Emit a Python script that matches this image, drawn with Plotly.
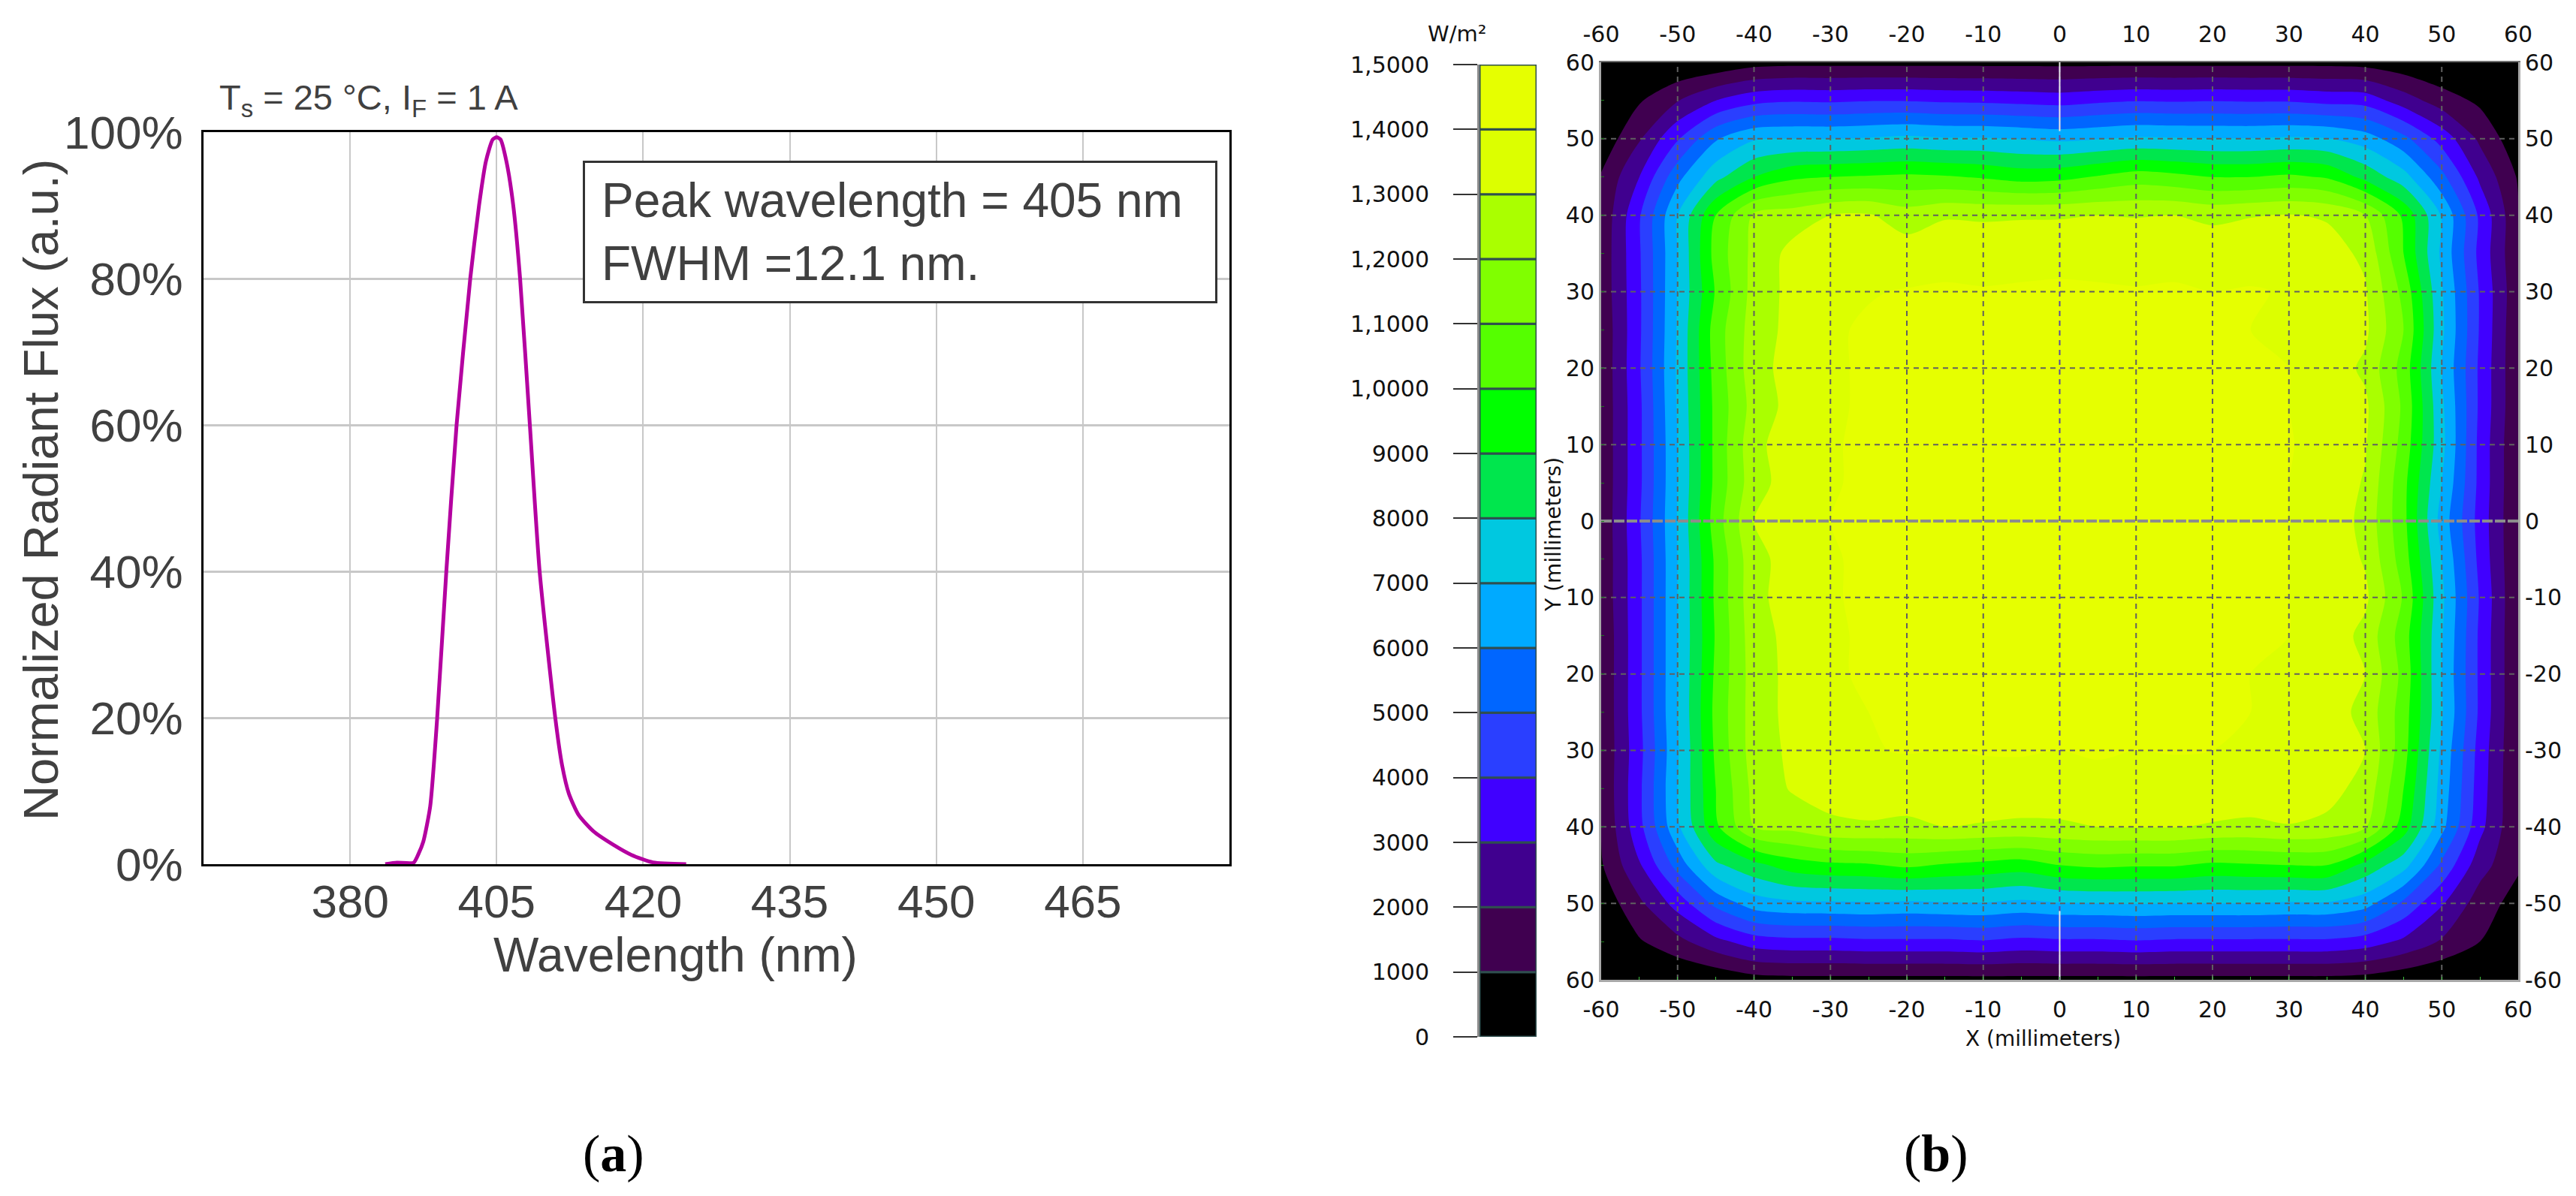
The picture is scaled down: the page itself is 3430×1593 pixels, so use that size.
import plotly.graph_objects as go

W, H = 3430, 1593

# ---------- panel (a) data ----------
wavelength = [393.6, 394.8, 396.5, 397.0, 397.5, 398.2, 398.9, 399.85, 400.9, 402.3, 403.2, 403.9, 404.6, 405.0,
              405.4, 406.0, 406.7, 407.4, 408.4, 409.4, 411.0, 411.7, 412.4, 413.4, 414.9, 417.0, 418.8, 421.0, 424.4]
radiant_flux = [0.0, 0.2, 0.2, 1.4, 3.1, 7.9, 19.7, 40, 60, 80, 90, 96, 99, 99.3,
                99, 96, 90, 80, 60, 40, 20, 13.5, 9.6, 6.7, 4.5, 2.6, 1.26, 0.24, 0.0]
wl_ticks = [390, 405, 420, 435, 450, 465]
wl_labels = ["380", "405", "420", "435", "450", "465"]
flux_ticks = [0, 20, 40, 60, 80, 100]
flux_labels = ["0%", "20%", "40%", "60%", "80%", "100%"]

# ---------- panel (b) data ----------
map_x = [-60, -55, -50, -45, -40, -35, -30, -25, -20, -15, -10, -5, 0, 5, 10, 15, 20, 25, 30, 35, 40, 45, 50, 55, 60]
map_y = [60, 55, 50, 45, 40, 35, 30, 25, 20, 15, 10, 5, 0, -5, -10, -15, -20, -25, -30, -35, -40, -45, -50, -55, -60]
irradiance = [
 [0,0,0,200,600,700,700,700,700,700,700,700,700,700,700,700,700,700,700,700,600,300,0,0,0],
 [0,900,1950,3000,3700,3900,3850,3950,3950,3850,3800,3700,3600,3800,3950,3900,3950,3900,3900,3700,3600,2500,1500,800,0],
 [300,1900,3900,5900,6900,7000,7000,7100,7250,7100,7100,6950,6800,6950,7150,7100,7050,7050,7150,7050,6500,5300,3600,1800,300],
 [1100,3000,5700,7700,9000,9800,10000,10100,10200,10100,9900,9600,9700,10100,10500,10300,10000,10000,10200,9900,8700,7400,5300,2800,900],
 [1200,3900,7000,10000,12200,12500,13000,13100,12500,12900,12850,12900,12900,13000,12950,13000,12750,12950,13050,12900,12000,9800,6900,3800,1100],
 [1300,3900,7000,10400,12300,13300,13600,13700,13500,13700,13700,13700,13800,13700,13700,13700,13700,13700,13700,13400,12800,10000,6800,3700,1100],
 [1300,3850,7050,10100,12400,13300,13800,13950,14050,14100,14050,14100,14100,14100,14050,14100,14000,14050,13950,13600,13100,10700,7100,3900,1200],
 [1200,3850,7100,10500,12500,13300,13900,14100,14000,14100,14200,14050,14200,14100,14000,14200,14100,14000,14000,13650,13200,11000,7200,3900,1100],
 [1200,3900,7150,10400,12600,13400,13900,14100,14200,14200,14300,14200,14300,14200,14200,14300,14200,14100,14000,13600,12800,10600,7000,3800,1100],
 [1200,3800,7100,10300,12400,13350,13900,14100,14200,14300,14300,14400,14300,14200,14300,14400,14300,14200,14000,13600,13200,10800,7200,3800,1100],
 [1200,3800,7000,10300,12700,13600,13950,14100,14200,14300,14400,14300,14400,14300,14400,14300,14300,14200,14050,13700,13100,10600,7300,3700,1000],
 [1200,3800,7000,10300,12600,13500,13950,14100,14200,14300,14400,14300,14400,14300,14300,14300,14200,14100,14000,13700,12900,10300,7000,3700,1000],
 [1200,3900,7050,10500,13000,13600,14000,14100,14200,14300,14300,14400,14300,14300,14300,14300,14200,14100,14000,13700,12700,10300,6600,3600,1000],
 [1200,3800,7000,10200,12700,13400,13950,14100,14300,14300,14400,14300,14400,14300,14300,14200,14100,14050,14000,13700,12900,10500,7000,3700,1000],
 [1200,3800,7000,10200,12700,13500,13950,14100,14300,14300,14300,14400,14300,14300,14300,14200,14100,14100,14000,13700,13200,10900,7200,3900,1000],
 [1100,3800,7000,10100,12600,13300,13900,14100,14200,14300,14300,14300,14300,14200,14200,14200,14100,14100,14000,13650,12700,10500,7100,3800,1000],
 [1100,3800,7000,10200,12500,13300,13900,14100,14100,14200,14200,14300,14300,14200,14100,14200,14100,14000,14000,13600,13000,10700,7000,3800,1000],
 [1100,3800,7000,10300,12500,13300,13900,14000,14100,14100,14200,14100,14200,14200,14100,14100,14100,14000,14000,13500,12700,10500,7100,3800,1000],
 [1100,3700,6900,10200,12500,13200,13700,13950,14050,14000,14050,14100,14000,14100,14000,14050,14000,14000,13950,13400,13000,10400,6800,3600,1000],
 [1100,3800,7000,10000,12300,13100,13400,13500,13500,13600,13700,13500,13400,13700,13700,13600,13700,13600,13600,13300,12700,10000,6600,3500,1000],
 [1000,3700,6800,9800,12000,12300,12800,12900,12800,13000,12900,12850,12900,13000,13050,13050,12900,12800,12950,12800,12100,9500,6300,3300,1050],
 [900,2900,5400,7800,8700,9500,9800,9900,10200,9900,9700,9500,10000,10200,10100,10100,9800,9900,10000,10000,8700,7400,4800,2400,1150],
 [300,1800,3400,5300,6500,6800,6850,6900,6800,6900,6950,6750,6950,7000,7050,7000,7000,7000,6900,6900,6400,4800,3100,1500,600],
 [0,900,1700,2700,3500,3700,3700,3800,3800,3800,3900,3700,3800,3800,3900,3800,3800,3800,3800,3800,3500,2800,1900,1000,0],
 [0,0,0,200,600,700,700,700,700,700,700,700,700,700,700,700,700,700,700,700,600,300,0,0,0],
]
band_colors = ["#000000", "#400050", "#40008f", "#4000ff", "#2a3fff", "#0066ff", "#00aaff", "#00c8e0",
               "#00e64d", "#00ff00", "#55ff00", "#80ff00", "#aaff00", "#dcff00", "#e6ff00"]
band_starts = [0, 1000, 2000, 3000, 4000, 5000, 6000, 7000, 8000, 9000, 10000, 11000, 12000, 13000, 14000]
band_height = [1000] * 15
scale_ticks = band_starts + [15000]
scale_labels = ["0", "1000", "2000", "3000", "4000", "5000", "6000", "7000", "8000", "9000",
                "1,0000", "1,1000", "1,2000", "1,3000", "1,4000", "1,5000"]
mm_ticks = [-60, -50, -40, -30, -20, -10, 0, 10, 20, 30, 40, 50, 60]
mm_minor = [-55, -45, -35, -25, -15, -5, 5, 15, 25, 35, 45, 55]
x_mm_labels = ["-60", "-50", "-40", "-30", "-20", "-10", "0", "10", "20", "30", "40", "50", "60"]
y_left_labels = ["60", "50", "40", "30", "20", "10", "0", "10", "20", "30", "40", "50", "60"]
y_right_labels = ["-60", "-50", "-40", "-30", "-20", "-10", "0", "10", "20", "30", "40", "50", "60"]
grid_mm = [-50, -40, -30, -20, -10, 10, 20, 30, 40, 50]

def fx(a, b): return [a / W, b / W]
def fy(top, bottom): return [1 - bottom / H, 1 - top / H]

fig = go.Figure()

# panel (a)
fig.add_trace(go.Scatter(x=wavelength, y=radiant_flux, mode="lines", xaxis="x", yaxis="y",
                         line=dict(color="#b400a0", width=5, shape="spline", smoothing=0.6),
                         showlegend=False, name="Normalized Radiant Flux"))

# panel (b) map
cs = []
for i, c in enumerate(band_colors):
    cs.append([i / 15, c]); cs.append([(i + 1) / 15, c])
fig.add_trace(go.Contour(x=map_x, y=map_y, z=irradiance, xaxis="x2", yaxis="y2", colorscale=cs,
                         zmin=0, zmax=15000, autocontour=False, showscale=False,
                         contours=dict(start=0, end=15000, size=1000, coloring="fill", showlines=False),
                         line=dict(width=0, smoothing=0.8), hoverinfo="skip", name="Irradiance"))

GRID = dict(color="#606060", width=2, dash="7px,6px")
for v in grid_mm:
    fig.add_trace(go.Scatter(x=[v, v], y=[-60, 60], mode="lines", xaxis="x2", yaxis="y2",
                             line=GRID, showlegend=False, hoverinfo="skip"))
    fig.add_trace(go.Scatter(x=[-60, 60], y=[v, v], mode="lines", xaxis="x2", yaxis="y2",
                             line=GRID, showlegend=False, hoverinfo="skip"))
fig.add_trace(go.Scatter(x=[-60, 60], y=[0, 0], mode="lines", xaxis="x2", yaxis="y2",
                         line=dict(color="#8c8c8c", width=4, dash="14px,3px"), showlegend=False, hoverinfo="skip"))
fig.add_trace(go.Scatter(x=[0, 0], y=[-60, 60], mode="lines", xaxis="x2", yaxis="y2",
                         line=dict(color="#5a4aa0", width=2, dash="7px,6px"), showlegend=False, hoverinfo="skip"))
fig.add_trace(go.Scatter(x=[0, 0, None, 0, 0], y=[60, 51, None, -51, -60], mode="lines", xaxis="x2", yaxis="y2",
                         line=dict(color="#e8e8e8", width=2), showlegend=False, hoverinfo="skip"))
# top/right labelled axes
fig.add_trace(go.Scatter(x=[-60, 60], y=[-60, 60], mode="lines", xaxis="x3", yaxis="y3", opacity=0,
                         showlegend=False, hoverinfo="skip"))

# panel (b) colour scale
fig.add_trace(go.Bar(x=[0] * 15, y=band_height, base=band_starts, width=1, xaxis="x4", yaxis="y4",
                     marker=dict(color=band_colors, line=dict(color="#2f4f4f", width=3)),
                     showlegend=False, hoverinfo="skip", name="Scale"))

GRAY = "#404040"
ARIAL = "Liberation Sans, Arial, sans-serif"
MAPF = dict(family="DejaVu Sans", size=30, color="#111111")

fig.update_layout(
    width=W, height=H, margin=dict(l=0, r=0, t=0, b=0, pad=0), autosize=False, template="none",
    paper_bgcolor="white", plot_bgcolor="white", showlegend=False,
    xaxis=dict(domain=fx(271, 1637), range=[375, 480], tickmode="array", tickvals=wl_ticks, ticktext=wl_labels,
               automargin=False, tickfont=dict(family=ARIAL, size=62, color=GRAY), ticklabelstandoff=-6, ticks="",
               showgrid=True, gridcolor="#c8c8c8", gridwidth=2, zeroline=False,
               showline=True, linecolor="#000000", linewidth=3, mirror=True, anchor="y"),
    yaxis=dict(domain=fy(176, 1151), range=[0, 100], tickmode="array", tickvals=flux_ticks, ticktext=flux_labels,
               automargin=False, tickfont=dict(family=ARIAL, size=62, color=GRAY), ticklabelstandoff=12, ticks="",
               showgrid=True, gridcolor="#c8c8c8", gridwidth=3, zeroline=False,
               showline=True, linecolor="#000000", linewidth=3, mirror=True, anchor="x"),
    xaxis2=dict(domain=fx(2132, 3353), range=[-60, 60], tickmode="array", tickvals=mm_ticks, ticktext=x_mm_labels, tickfont=MAPF,
                automargin=False, ticks="inside", ticklen=4, tickcolor="#3cc03c", ticklabelstandoff=11,
                minor=dict(tickmode="array", tickvals=mm_minor, ticks="inside", ticklen=4, tickcolor="#3cc03c"),
                showgrid=False, zeroline=False, showline=True, linecolor="#a8a8a8", linewidth=3, anchor="y2"),
    yaxis2=dict(domain=fy(83, 1305), range=[-60, 60], tickmode="array", tickvals=mm_ticks, ticktext=y_left_labels, tickfont=MAPF,
                automargin=False, ticks="inside", ticklen=4, tickcolor="#1a7a1a",
                minor=dict(tickmode="array", tickvals=mm_minor, ticks="inside", ticklen=4, tickcolor="#1a7a1a"),
                showgrid=False, zeroline=False, showline=True, linecolor="#a8a8a8", linewidth=3, anchor="x2"),
    xaxis3=dict(domain=fx(2132, 3353), range=[-60, 60], tickmode="array", tickvals=mm_ticks, ticktext=x_mm_labels, tickfont=MAPF,
                automargin=False, side="top", overlaying="x2", ticks="", ticklabelstandoff=13, showgrid=False, zeroline=False,
                showline=True, linecolor="#707070", linewidth=2, anchor="y3"),
    yaxis3=dict(domain=fy(83, 1305), range=[-60, 60], tickmode="array", tickvals=mm_ticks, ticktext=y_right_labels, tickfont=MAPF,
                automargin=False, side="right", overlaying="y2", ticks="", showgrid=False, zeroline=False,
                showline=True, linecolor="#a8a8a8", linewidth=3, anchor="x3"),
    xaxis4=dict(domain=fx(1970, 2046), range=[-0.5, 0.5], visible=False, anchor="y4"),
    yaxis4=dict(domain=fy(86, 1381), range=[0, 15000], tickmode="array", tickvals=scale_ticks, ticktext=scale_labels, tickfont=MAPF,
                automargin=False, ticks="outside", ticklen=32, tickwidth=2, tickcolor="#333333", ticklabelstandoff=26,
                showgrid=False, zeroline=False, showline=True, linecolor="#8a8a8a", linewidth=3, anchor="x4"),
)

def note(text, x, y, size, family=ARIAL, color=GRAY, angle=0, xanchor="center"):
    fig.add_annotation(text=text, x=x / W, y=1 - y / H, xref="paper", yref="paper", showarrow=False,
                       font=dict(family=family, size=size, color=color), textangle=angle,
                       xanchor=xanchor, yanchor="middle")

note("T<sub>s</sub> = 25 °C, I<sub>F</sub> = 1 A", 290, 133, 47, xanchor="left")
note("Wavelength (nm)", 900, 1272, 64)
note("Normalized Radiant Flux (a.u.)", 54, 653, 65, angle=-90)
note("W/m²", 1940, 45, 29, family="DejaVu Sans", color="#111111")
note("X (millimeters)", 2720, 1383, 28, family="DejaVu Sans", color="#111111")
note("Y (millimeters)", 2068, 712, 28, family="DejaVu Sans", color="#111111", angle=-90)
note("(<b>a</b>)", 817, 1536, 70, family="Liberation Serif", color="#000000")
note("(<b>b</b>)", 2578, 1536, 70, family="Liberation Serif", color="#000000")

fig.add_annotation(text="Peak wavelength = 405 nm<br>FWHM =12.1 nm.", x=776 / W, y=1 - 214 / H, xref="paper", yref="paper",
                   xanchor="left", yanchor="top", showarrow=False, align="left", width=795, height=140,
                   bgcolor="white", bordercolor="#333333", borderwidth=3, borderpad=22,
                   font=dict(family=ARIAL, size=64, color=GRAY))

fig.write_html("out.html", config=dict(displayModeBar=False),
               post_script="document.body.style.margin='0';document.body.style.overflow='hidden';")
